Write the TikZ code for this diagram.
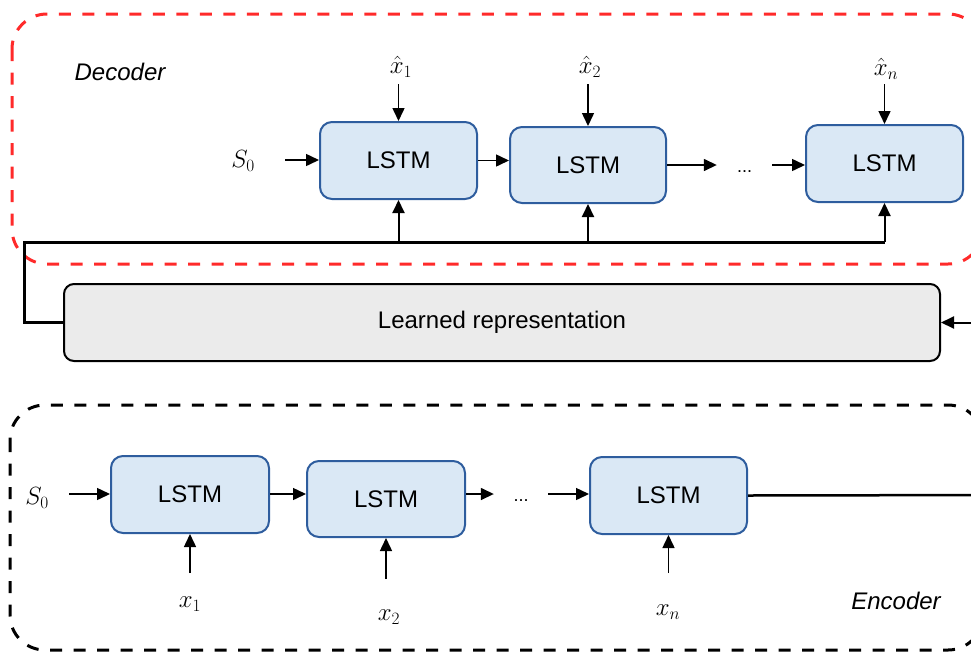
\documentclass[tikz,border=0pt]{standalone}
\usepackage{fontspec}
\setsansfont{Liberation Sans}
\usetikzlibrary{arrows.meta,calc}
\definecolor{lstmfill}{HTML}{DAE8F5}
\definecolor{lstmdraw}{HTML}{2E5D9E}
\definecolor{learnfill}{HTML}{EBEBEB}
\definecolor{decred}{HTML}{FF2A2A}
\tikzset{
  lstm/.style={draw=lstmdraw, fill=lstmfill, line width=2pt, rounded corners=12pt,
    minimum width=157pt, minimum height=77pt, inner sep=0pt,
    font=\sffamily\fontsize{24}{28}\selectfont},
  learnbox/.style={draw=black, fill=learnfill, line width=2pt, rounded corners=10pt,
    minimum width=876pt, minimum height=77pt, inner sep=0pt,
    font=\sffamily\fontsize{24}{28}\selectfont},
  mathlbl/.style={inner sep=0pt, font=\fontsize{24}{28}\selectfont},
  ttl/.style={inner sep=0pt, font=\sffamily\itshape\fontsize{24}{28}\selectfont},
  dotsnode/.style={inner sep=0pt, minimum width=55pt, text height=0pt, text depth=0pt,
    font=\sffamily\fontsize{18}{20}\selectfont},
  arr/.style={line width=1.5pt, -{Triangle[length=13pt,width=12pt]}},
  tap/.style={line width=2pt, -{Triangle[length=13pt,width=12pt]}},
  fb/.style={line width=3pt},
  dashbox/.style={line width=3pt, dash pattern=on 12pt off 11.5pt, rounded corners=35pt},
}
\begin{document}
\begin{tikzpicture}[x=1pt,y=-1pt]
\useasboundingbox (0,0) rectangle (971,654);
\clip (0,0) rectangle (971,654);

% dashed groups
\draw[dashbox, decred] (12,14) rectangle (983,264);
\draw[dashbox, black] (10,405) rectangle (983,650);

\node[ttl] (dec) at (120,72) {Decoder};
\node[ttl] (enc) at (896,601) {Encoder};

% decoder
\node[lstm] (d1) at (398.5,160.5) {LSTM};
\node[lstm, minimum width=156pt, minimum height=76pt] (d2) at (588,165) {LSTM};
\node[lstm] (d3) at (884.5,163.5) {LSTM};
\node[dotsnode] (dd) at (744.5,165) {\raisebox{-7pt}{...}};

\node[mathlbl] (s0d) at (243,161) {$S_0$};
\node[mathlbl] (xh1) at (401,67) {$\hat{x}_1$};
\node[mathlbl] (xh2) at (590,67) {$\hat{x}_2$};
\node[mathlbl] (xhn) at (886,69) {$\hat{x}_n$};

\coordinate (s0dA) at (285,160);
\draw[arr] (s0dA) -- (s0dA -| d1.west);
\draw[arr] (d1.east) -- (d1.east -| d2.west);
\draw[arr] (d2.east) -- (dd.west);
\draw[arr] (dd.east) -- (dd.east -| d3.west);
\foreach \n in {d1,d2,d3}{
  \coordinate (top\n) at ($(\n.north |- 0,84)$);
  \draw[arr] (top\n) -- (\n.north);
}

% learned representation
\node[learnbox] (lr) at (502,322.5) {Learned representation};

% feedback to decoder
\coordinate (fbA) at (24,242);
\draw[fb] (lr.west) -| (fbA) -- (fbA -| d3.south);
\foreach \n in {d1,d2,d3}{
  \draw[tap] (fbA -| \n.south) -- (\n.south);
}

% encoder
\node[lstm, minimum width=158pt] (e1) at (190,494.5) {LSTM};
\node[lstm, minimum width=158pt, minimum height=76pt] (e2) at (386,499) {LSTM};
\node[lstm] (e3) at (668.5,495.5) {LSTM};
\node[dotsnode, minimum width=54pt] (ee) at (521,494) {\raisebox{-7pt}{...}};

\node[mathlbl] (s0e) at (37,498) {$S_0$};
\node[mathlbl] (x1) at (190,604) {$x_1$};
\node[mathlbl] (x2) at (389,617) {$x_2$};
\node[mathlbl] (xn) at (668,612) {$x_n$};

\coordinate (s0eA) at (69,494);
\draw[arr] (s0eA) -- (s0eA -| e1.west);
\draw[arr] (s0eA -| e1.east) -- (s0eA -| e2.west);
\draw[arr] (s0eA -| e2.east) -- (ee.west);
\draw[arr] (ee.east) -- (ee.east -| e3.west);

\coordinate (in1) at (190,573);
\coordinate (in2) at (386,579);
\coordinate (in3) at (668.5,573);
\draw[arr] (in1) -- (e1.south);
\draw[arr] (in2) -- (e2.south);
\draw[arr] (in3) -- (e3.south);

% encoder output to learned representation (runs beyond the frame)
\coordinate (farE) at (1000,495);
\coordinate (farL) at (1000,322.5);
\draw[line width=2.5pt] (e3.east) -- (farE) -- (farL);
\draw[tap] (farL) -- (lr.east);
\end{tikzpicture}
\end{document}
